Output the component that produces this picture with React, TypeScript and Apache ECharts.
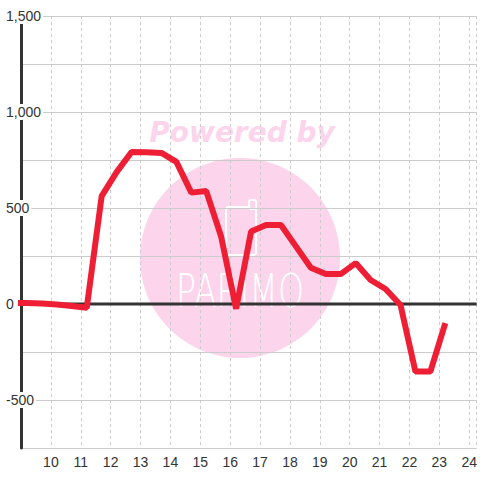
import React, { useEffect, useRef } from "react";
import * as echarts from "echarts";

const hours = [8.7, 9.2, 9.7, 10.2, 10.7, 11.2, 11.7, 12.2, 12.7, 13.2, 13.7, 14.2, 14.7, 15.2, 15.7, 16.2, 16.7, 17.2, 17.7, 18.2, 18.7, 19.2, 19.7, 20.2, 20.7, 21.2, 21.7, 22.2, 22.7, 23.2];
const values = [5, 5, 3, -3, -10, -20, 562, 687, 792, 790, 787, 740, 580, 588, 350, -25, 377, 411, 411, 300, 189, 156, 156, 213, 125, 78, -5, -352, -352, -100];
const xTicks = [10, 11, 12, 13, 14, 15, 16, 17, 18, 19, 20, 21, 22, 23, 24];
const yLabelValues = [-500, 0, 500, 1000, 1500];
const xMin = 9;
const xMax = 24.25;

export default function App() {
  const ref = useRef<HTMLDivElement>(null);
  useEffect(() => {
    if (!ref.current) return;
    const chart = echarts.init(ref.current, undefined, { renderer: "svg" });
    const data = hours.map((h, i) => [h, values[i]]);
    const pink = "#fcd5ec";
    chart.setOption({
      animation: false,
      backgroundColor: "#ffffff",
      grid: { left: 21, right: 0, top: 16, bottom: 32, containLabel: false },
      graphic: [
        { type: "circle", z: 0, silent: true, shape: { cx: 240, cy: 258, r: 100 }, style: { fill: pink } },
        {
          type: "text", z: 0, silent: true, x: 242, y: 132,
          style: { text: "Powered by", fill: pink, font: "italic bold 28px 'DejaVu Sans'", align: "center", verticalAlign: "middle" },
        },
        { type: "rect", z: 0, silent: true, shape: { x: 226, y: 207, width: 30, height: 48, r: 3 }, style: { fill: "none", stroke: "#ffffff", lineWidth: 2 } },
        { type: "rect", z: 0, silent: true, shape: { x: 249, y: 200, width: 7, height: 9, r: 2 }, style: { fill: pink, stroke: "#ffffff", lineWidth: 2 } },
        {
          type: "text", z: 0, silent: true, x: 240, y: 291, scaleX: 0.72,
          style: { text: "PARIMO", fill: "#ffffff", font: "200 46px 'DejaVu Sans'", align: "center", verticalAlign: "middle" },
        },
      ],
      xAxis: {
        type: "value", min: xMin, max: xMax, interval: 1, z: 1,
        axisLine: { show: false }, axisTick: { show: false },
        axisLabel: {
          color: "#333", fontSize: 14, fontFamily: "'Liberation Sans', Arial, sans-serif", margin: 7,
          formatter: (v: number) => (xTicks.includes(v) ? String(v) : ""),
        },
        splitLine: { show: true, lineStyle: { color: "#cccccc", type: [3, 3], width: 1 } },
      },
      yAxis: {
        type: "value", min: -750, max: 1500, interval: 250, z: 2,
        axisLine: { show: true, lineStyle: { color: "#333333", width: 3 } },
        axisTick: { show: false },
        splitLine: { show: true, lineStyle: { color: "#cccccc", width: 1 } },
        axisLabel: {
          margin: 16, align: "left",
          formatter: (v: number) => (yLabelValues.includes(v) ? "{a|" + v.toLocaleString("en-US") + "}" : ""),
          rich: {
            a: {
              color: "#333", fontSize: 14, fontFamily: "'Liberation Sans', Arial, sans-serif",
              backgroundColor: "#ffffff", padding: [1, 2, 1, 1], lineHeight: 16,
            },
          },
        },
      },
      series: [
        {
          type: "line", data: [[xMin, 0], [xMax, 0]], z: 2, symbol: "none", silent: true,
          lineStyle: { color: "#333333", width: 3 },
        },
        {
          type: "line", data, z: 3, symbol: "none", clip: true,
          lineStyle: { color: "#ee1f35", width: 6, join: "bevel" },
        },
      ],
    });
    return () => chart.dispose();
  }, []);
  return <div ref={ref} style={{ position: "absolute", left: 0, top: 0, width: 480, height: 480 }} />;
}
